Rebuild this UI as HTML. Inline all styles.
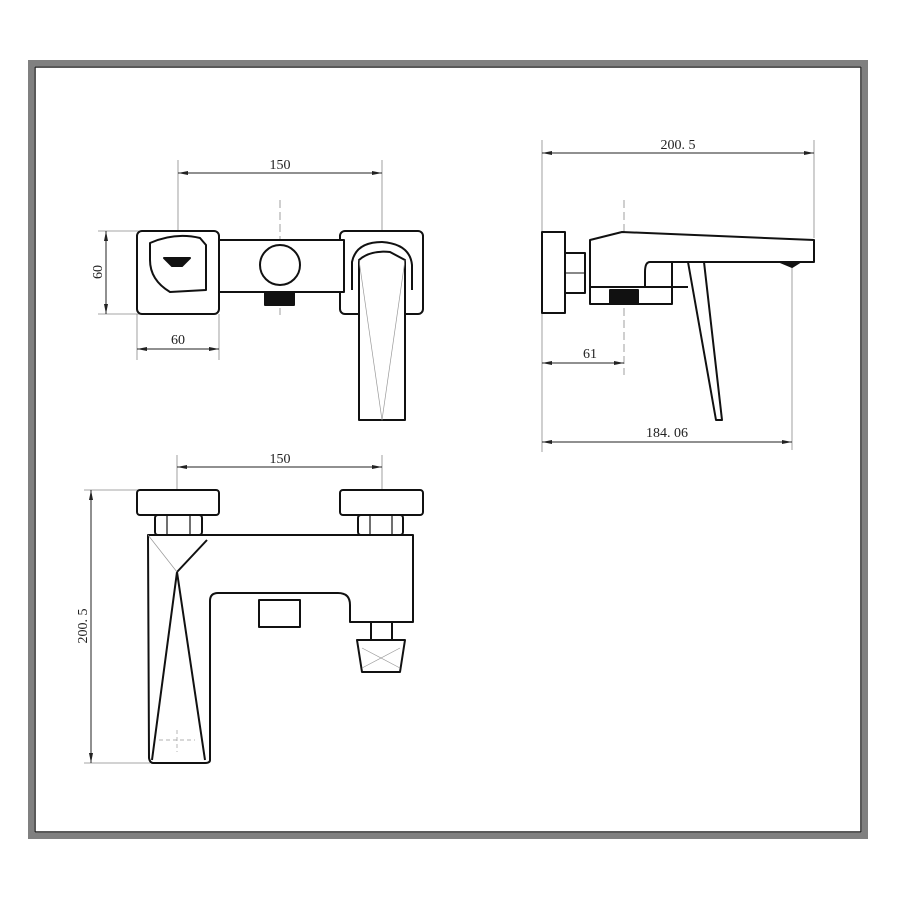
<!DOCTYPE html>
<html><head><style>body{margin:0;background:#fff}svg{display:block}text{font-family:"Liberation Serif",serif;font-size:14px;fill:#222}</style></head><body>
<svg width="900" height="900" viewBox="0 0 900 900" xmlns="http://www.w3.org/2000/svg">
<defs><marker id="a" markerWidth="10" markerHeight="6" refX="10" refY="3" orient="auto-start-reverse"><path d="M0,1 L10,3 L0,5z" fill="#222"/></marker></defs>
<rect x="31" y="63" width="834" height="773" fill="none" stroke="#808080" stroke-width="6"/>
<rect x="35" y="67" width="826" height="765" fill="none" stroke="#222" stroke-width="1.5"/>
<g stroke="#888" stroke-width="0.8" fill="none">
<line x1="178" y1="160" x2="178" y2="300"/><line x1="382" y1="160" x2="382" y2="245"/>
<line x1="98" y1="231" x2="140" y2="231"/><line x1="98" y1="314" x2="140" y2="314"/>
<line x1="137" y1="314" x2="137" y2="360"/><line x1="219" y1="314" x2="219" y2="360"/>
<line x1="542" y1="140" x2="542" y2="452"/><line x1="814" y1="140" x2="814" y2="238"/>
<line x1="792" y1="262" x2="792" y2="450"/>
<line x1="177" y1="455" x2="177" y2="540"/><line x1="382" y1="455" x2="382" y2="660"/>
<line x1="84" y1="490" x2="140" y2="490"/><line x1="84" y1="763" x2="150" y2="763"/>
<line x1="280" y1="200" x2="280" y2="315" stroke-dasharray="8,4"/>
<line x1="624" y1="200" x2="624" y2="375" stroke-dasharray="8,4"/>
<circle cx="382" cy="272" r="36"/>
</g>
<g stroke="#222" stroke-width="1" fill="none">
<line x1="178" y1="173" x2="382" y2="173" marker-start="url(#a)" marker-end="url(#a)"/>
<line x1="106" y1="231" x2="106" y2="314" marker-start="url(#a)" marker-end="url(#a)"/>
<line x1="137" y1="349" x2="219" y2="349" marker-start="url(#a)" marker-end="url(#a)"/>
<line x1="542" y1="153" x2="814" y2="153" marker-start="url(#a)" marker-end="url(#a)"/>
<line x1="542" y1="363" x2="624" y2="363" marker-start="url(#a)" marker-end="url(#a)"/>
<line x1="542" y1="442" x2="792" y2="442" marker-start="url(#a)" marker-end="url(#a)"/>
<line x1="177" y1="467" x2="382" y2="467" marker-start="url(#a)" marker-end="url(#a)"/>
<line x1="91" y1="490" x2="91" y2="763" marker-start="url(#a)" marker-end="url(#a)"/>
</g>
<text x="280" y="169" text-anchor="middle">150</text>
<text transform="translate(102,272) rotate(-90)" text-anchor="middle">60</text>
<text x="178" y="344" text-anchor="middle">60</text>
<text x="678" y="149" text-anchor="middle">200. 5</text>
<text x="590" y="358" text-anchor="middle">61</text>
<text x="667" y="437" text-anchor="middle">184. 06</text>
<text x="280" y="463" text-anchor="middle">150</text>
<text transform="translate(87,626) rotate(-90)" text-anchor="middle">200. 5</text>
<g stroke="#111" stroke-width="2" fill="#fff" stroke-linejoin="round">
<rect x="137" y="231" width="82" height="83" rx="5"/>
<rect x="340" y="231" width="83" height="83" rx="5"/>
<rect x="219" y="240" width="125" height="52"/>
<path d="M150,243 Q175,232 200,238 L206,245 L206,290 L170,292 Q150,280 150,260z"/>
<path d="M164,258 L190,258 L182,266 L172,266z" fill="#111"/>
<circle cx="280" cy="265" r="20"/>
<rect x="265" y="292" width="29" height="13" fill="#111"/>
<path d="M352,290 L352,262 Q356,242 382,242 Q410,244 412,265 L412,290"/>
<path d="M359,260 Q370,250 390,252 L405,260 L405,420 L359,420z"/>
<path d="M359,260 L382,420 L405,260" fill="none" stroke="#999" stroke-width="0.7"/>
<rect x="542" y="232" width="23" height="81"/>
<rect x="565" y="253" width="20" height="40"/>
<line x1="565" y1="273" x2="585" y2="273" stroke-width="1"/>
<path d="M590,240 L622,232 L814,240 L814,262 L650,262 Q645,262 645,272 L645,287 L590,287z"/>
<rect x="590" y="287" width="82" height="17"/>
<rect x="610" y="290" width="28" height="14" fill="#111"/>
<path d="M672,262 L672,287 L688,287"/>
<path d="M688,262 L704,262 L722,420 L716,420z"/>
<path d="M780,262 L800,262 L792,267z" fill="#111"/>
<rect x="137" y="490" width="82" height="25" rx="3"/>
<rect x="340" y="490" width="83" height="25" rx="3"/>
<rect x="155" y="515" width="47" height="20" rx="3"/>
<rect x="358" y="515" width="45" height="20" rx="3"/>
<path d="M167,515 V535 M190,515 V535 M370,515 V535 M392,515 V535" stroke-width="1.2"/>
<path d="M148,535 L413,535 L413,622 L350,622 L350,605 Q350,593 338,593 L218,593 Q210,593 210,601 L210,760 Q210,763 205,763 L153,763 Q150,763 149,758z"/>
<path d="M207,540 L177,572 L152,760 M177,572 L205,760" fill="none"/>
<rect x="259" y="600" width="41" height="27"/>
<rect x="371" y="622" width="21" height="18"/>
<path d="M357,640 L405,640 L400,672 L362,672z"/>
</g>
<g stroke="#999" stroke-width="0.7" fill="none">
<line x1="148" y1="535" x2="177" y2="572"/>
<line x1="159" y1="740" x2="195" y2="740" stroke-dasharray="4,3"/>
<line x1="177" y1="730" x2="177" y2="752" stroke-dasharray="4,3"/>
<path d="M362,648 L400,668 M400,648 L362,668"/>
</g>
</svg>
</body></html>
